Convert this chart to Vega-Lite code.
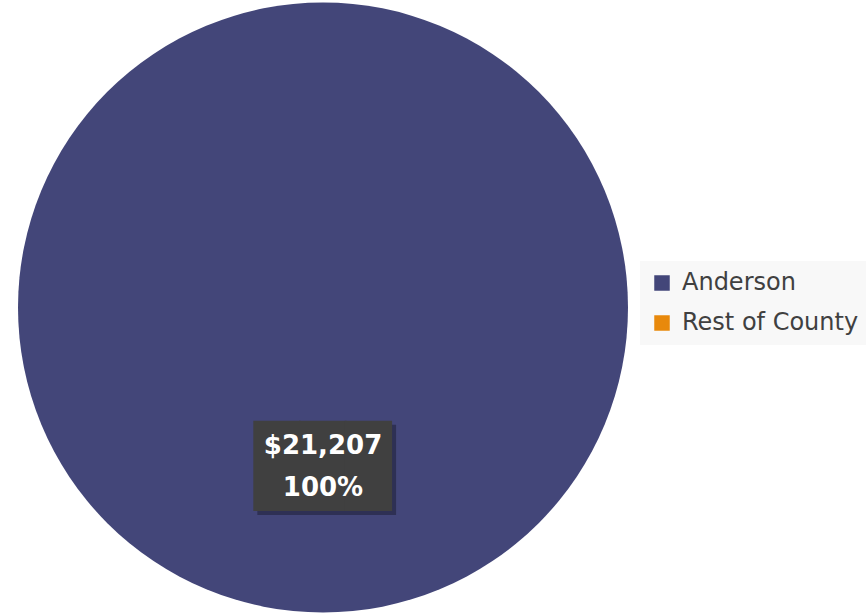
{
  "$schema": "https://vega.github.io/schema/vega-lite/v6.json",
  "width": 646,
  "height": 615,
  "padding": 0,
  "autosize": {"type": "pad"},
  "background": "white",
  "config": {"view": {"stroke": null}},
  "data": {"values": [
    {"area": "Anderson", "value": 21207},
    {"area": "Rest of County", "value": 0}
  ]},
  "encoding": {"theta": {"field": "value", "type": "quantitative", "stack": true}},
  "layer": [
    {
      "mark": {"type": "arc", "outerRadius": 305},
      "encoding": {
        "color": {
          "field": "area", "type": "nominal",
          "scale": {"domain": ["Anderson", "Rest of County"], "range": ["#434679", "#E8890C"]},
          "legend": {
            "title": null, "orient": "none", "legendX": 640, "legendY": 261,
            "fillColor": "#f8f8f8", "padding": 10, "symbolType": "square", "symbolSize": 240,
            "symbolStrokeWidth": 0, "labelFontSize": 24, "labelFont": "DejaVu Sans",
            "labelColor": "#404040", "rowPadding": 16, "labelOffset": 8, "labelLimit": 400
          }
        }
      }
    },
    {
      "transform": [{"filter": "datum.value > 0"}],
      "mark": {"type": "text", "radius": 154, "text": "███", "font": "DejaVu Sans Mono", "fontSize": 76, "color": "#000000", "opacity": 0.3, "dx": 4, "dy": 11, "baseline": "middle", "align": "center"}
    },
    {
      "transform": [{"filter": "datum.value > 0"}],
      "mark": {"type": "text", "radius": 154, "text": "███", "font": "DejaVu Sans Mono", "fontSize": 76, "color": "#404040", "dy": 7, "baseline": "middle", "align": "center"}
    },
    {
      "transform": [{"filter": "datum.value > 0"}],
      "mark": {"type": "text", "radius": 154, "font": "DejaVu Sans", "fontWeight": "bold", "fontSize": 26, "color": "white", "dy": -16, "baseline": "middle", "align": "center"},
      "encoding": {"text": {"field": "value", "type": "quantitative", "format": "$,.0f"}}
    },
    {
      "transform": [
        {"joinaggregate": [{"op": "sum", "field": "value", "as": "total"}]},
        {"calculate": "datum.value / datum.total", "as": "share"},
        {"filter": "datum.value > 0"}
      ],
      "mark": {"type": "text", "radius": 154, "font": "DejaVu Sans", "fontWeight": "bold", "fontSize": 26, "color": "white", "dy": 26, "baseline": "middle", "align": "center"},
      "encoding": {"text": {"field": "share", "type": "quantitative", "format": ".0%"}}
    }
  ]
}
